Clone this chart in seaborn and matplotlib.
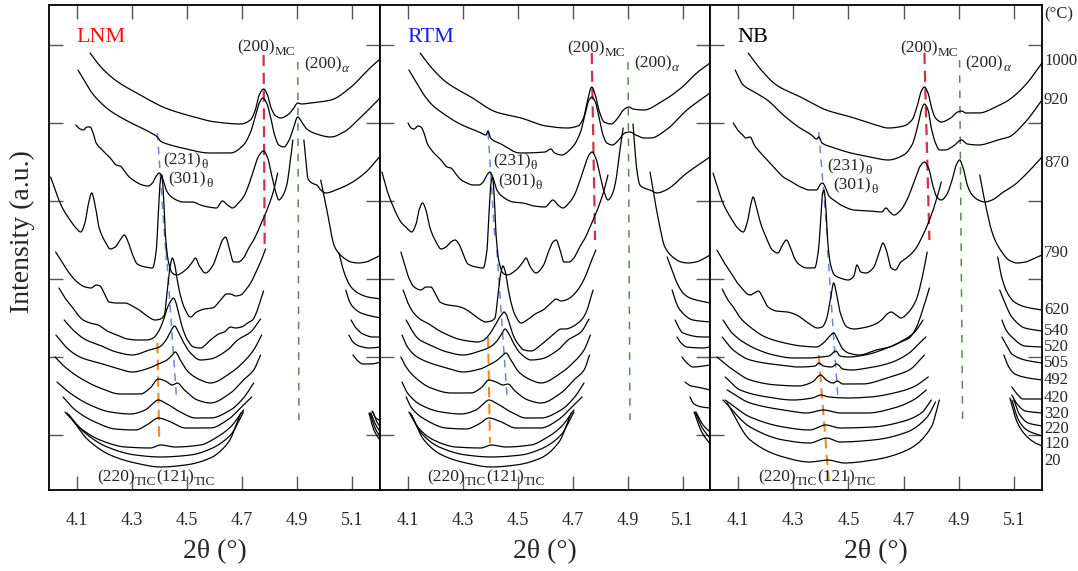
import numpy as np
import pandas as pd
import matplotlib
matplotlib.use("Agg")
import matplotlib.pyplot as plt
import matplotlib.transforms as mtrans
import seaborn as sns

# ---------------- data (2theta in degrees, intensity in a.u.) ----------------
TEMPS = [1000, 920, 870, 790, 620, 540, 520, 505, 492, 420, 320, 220, 120, 20]
SAMPLES = ["LNM", "RTM", "NB"]
XTICKS = [4.1, 4.3, 4.5, 4.7, 4.9, 5.1]

# ---- LNM ----
LNM_1000 = [(4.149,437),(4.185,424),(4.240,410),(4.331,395),(4.422,382),(4.513,374),(4.604,368),(4.695,366),(4.730,370),(4.748,380),(4.762,395),(4.778,401),(4.792,395),(4.804,383),(4.822,374),(4.840,372),(4.865,375),(4.885,381),(4.902,387),(4.915,386),(4.949,387),(5.022,390),(5.095,403),(5.156,420),(5.204,432)]
LNM_920 = [(4.105,420),(4.131,408),(4.156,397),(4.185,388),(4.218,380),(4.291,368),(4.364,358),(4.393,353),(4.404,349),(4.440,345),(4.484,342),(4.582,337),(4.658,337),(4.705,345),(4.731,358),(4.749,375),(4.764,388),(4.775,392),(4.789,387),(4.804,372),(4.818,355),(4.833,345),(4.851,343),(4.869,349),(4.884,360),(4.902,373),(4.916,368),(4.935,361),(4.960,357),(5.022,353),(5.069,358),(5.131,373),(5.204,393)]
LNM_870 = [(4.097,365),(4.113,361),(4.124,360),(4.138,363),(4.149,363),(4.160,357),(4.171,347),(4.193,340),(4.222,332),(4.244,325),(4.258,324),(4.276,318),(4.291,313),(4.316,308),(4.338,305),(4.360,304),(4.375,307),(4.389,314),(4.400,317),(4.411,312),(4.425,300),(4.440,294),(4.462,290),(4.484,288),(4.520,288),(4.549,285),(4.578,283),(4.607,282),(4.629,289),(4.647,285),(4.665,282),(4.687,287),(4.705,293),(4.724,305),(4.742,320),(4.760,334),(4.778,339),(4.793,332),(4.807,315),(4.822,298),(4.833,290),(4.847,294),(4.862,305),(4.873,325),(4.884,350),
           None,(4.924,350),(4.931,330),(4.938,312),(4.953,307),(4.971,305),(4.985,300),(5.004,297),(5.040,300),(5.095,307),(5.149,318),(5.204,335)]
LNM_790 = [(4.006,313),(4.025,298),(4.047,283),(4.076,270),(4.098,262),(4.115,258),(4.131,268),(4.142,285),(4.155,297),(4.167,285),(4.182,262),(4.204,248),(4.222,241),(4.240,243),(4.258,250),(4.273,255),(4.287,248),(4.302,236),(4.320,226),(4.349,223),(4.375,222),(4.389,240),(4.396,275),(4.404,310),(4.409,315),(4.415,295),(4.422,255),(4.433,228),(4.447,217),(4.462,215),(4.495,220),(4.520,228),(4.531,232),(4.545,224),(4.567,217),(4.593,224),(4.615,240),(4.629,250),(4.640,253),(4.655,240),(4.669,228),(4.687,228),(4.705,232),(4.724,242),(4.742,250),(4.767,265),(4.793,282),(4.815,300),(4.829,317),
           None,(4.985,310),(4.996,295),(5.011,275),(5.022,258),(5.033,245),(5.047,238),(5.069,232),(5.095,228),(5.120,227),(5.149,228),(5.175,231),(5.204,235)]
LNM_620 = [(4.024,238),(4.047,228),(4.073,217),(4.102,208),(4.131,203),(4.153,202),(4.171,205),(4.185,204),(4.200,197),(4.218,188),(4.247,187),(4.276,187),(4.302,184),(4.327,180),(4.356,174),(4.385,170),(4.404,171),(4.418,175),(4.429,200),(4.440,225),(4.447,232),(4.456,225),(4.465,210),(4.476,195),(4.491,182),(4.513,173),(4.535,178),(4.564,181),(4.593,182),(4.622,190),(4.644,196),(4.658,196),(4.676,194),(4.695,195),(4.713,200),(4.731,207),(4.749,217),(4.767,228),(4.785,241),
           None,(5.051,237),(5.062,225),(5.076,213),(5.095,203),(5.120,197),(5.156,193),(5.204,191)]
LNM_540 = [(4.036,202),(4.058,192),(4.084,183),(4.105,175),(4.124,170),(4.149,167),(4.178,165),(4.211,159),(4.247,155),(4.284,151),(4.320,150),(4.356,150),(4.378,152),(4.396,158),(4.415,170),(4.429,182),(4.444,190),(4.451,192),(4.458,189),(4.469,178),(4.484,162),(4.502,150),(4.524,143),(4.549,142),(4.585,150),(4.615,156),(4.636,158),(4.658,163),(4.676,162),(4.698,163),(4.720,167),(4.738,170),(4.753,178),(4.767,190),(4.778,199),
           None,(5.076,200),(5.087,190),(5.102,183),(5.131,177),(5.167,174),(5.204,172)]
LNM_520 = [(4.055,170),(4.095,158),(4.135,150),(4.182,145),(4.244,138),(4.302,135),(4.364,140),(4.400,143),(4.422,149),(4.440,158),(4.455,164),(4.469,158),(4.487,148),(4.513,137),(4.549,130),(4.585,131),(4.647,140),(4.684,150),(4.731,158),(4.767,171),
           None,(5.095,170),(5.113,162),(5.138,156),(5.175,153),(5.204,153)]
LNM_505 = [(4.025,155),(4.073,140),(4.120,132),(4.182,127),(4.244,122),(4.302,118),(4.364,122),(4.396,126),(4.422,129),(4.444,134),(4.458,138),(4.476,130),(4.505,118),(4.549,110),(4.585,107),(4.658,117),(4.705,128),(4.742,140),(4.771,155),
           None,(5.087,155),(5.102,148),(5.124,144),(5.160,142),(5.204,143)]
LNM_492 = [(4.022,133),(4.058,123),(4.113,112),(4.185,102),(4.258,96),(4.331,96),(4.367,102),(4.396,111),(4.422,109),(4.447,105),(4.465,107),(4.491,100),(4.538,90),(4.585,87),(4.658,97),(4.705,110),(4.742,120),(4.767,135),
           None,(5.102,135),(5.116,130),(5.138,126),(5.167,126),(5.204,128)]
LNM_420 = [(4.029,108),(4.076,97),(4.149,85),(4.222,78),(4.295,76),(4.349,80),(4.375,86),(4.396,90),(4.422,87),(4.476,78),(4.531,72),(4.585,72),(4.658,80),(4.705,92),(4.742,107),
           None,(5.171,79),(5.185,72),(5.204,69)]
LNM_320 = [(4.051,93),(4.095,80),(4.167,68),(4.240,61),(4.313,60),(4.360,66),(4.396,72),(4.433,69),(4.495,62),(4.585,62),(4.647,70),(4.705,85),(4.735,93),
           None,(5.175,78),(5.189,68),(5.204,62)]
LNM_220 = [(4.058,78),(4.113,62),(4.185,50),(4.276,43),(4.367,42),(4.404,45),(4.458,43),(4.549,45),(4.604,52),(4.658,63),(4.705,80),
           None,(5.167,77),(5.185,65),(5.204,57)]
LNM_120 = [(4.065,77),(4.131,57),(4.211,43),(4.313,35),(4.404,33),(4.513,35),(4.585,41),(4.658,55),(4.705,78),
           None,(5.164,77),(5.182,62),(5.204,52)]
LNM_20 = [(4.073,75),(4.142,50),(4.222,35),(4.313,27),(4.404,23),(4.495,25),(4.585,32),(4.651,48),(4.695,77),
          None,(5.160,77),(5.178,60),(5.204,48)]

# ---- RTM ----
RTM_1000 = [(4.146,437),(4.185,423),(4.240,408),(4.331,393),(4.422,378),(4.513,372),(4.604,364),(4.680,362),(4.720,364),(4.740,372),(4.755,390),(4.770,403),(4.784,394),(4.796,380),(4.815,368),(4.840,366),(4.865,372),(4.885,380),(4.905,383),(4.920,381),(4.960,380),(5.022,388),(5.095,402),(5.156,418),(5.200,427)]
RTM_920 = [(4.105,420),(4.131,408),(4.160,395),(4.190,385),(4.222,378),(4.291,366),(4.360,358),(4.385,355),(4.393,359),(4.402,352),(4.440,346),(4.509,337),(4.600,338),(4.621,341),(4.635,337),(4.660,335),(4.700,343),(4.728,357),(4.745,375),(4.760,390),(4.770,393),(4.783,388),(4.797,372),(4.811,355),(4.825,347),(4.845,345),(4.868,350),(4.890,357),(4.909,358),(4.930,355),(4.960,352),(4.985,352),(5.040,360),(5.116,380),(5.200,397)]
RTM_870 = [(4.102,367),(4.113,362),(4.124,361),(4.138,364),(4.149,363),(4.160,357),(4.171,347),(4.193,338),(4.222,330),(4.244,323),(4.258,322),(4.276,316),(4.291,311),(4.316,307),(4.338,305),(4.360,305),(4.375,308),(4.389,315),(4.400,318),(4.411,312),(4.425,300),(4.447,293),(4.484,288),(4.520,287),(4.560,284),(4.600,283),(4.629,290),(4.647,285),(4.665,282),(4.687,287),(4.705,294),(4.724,307),(4.742,322),(4.760,335),(4.771,338),(4.786,331),(4.800,315),(4.815,298),(4.829,290),(4.845,296),(4.858,310),(4.870,335),(4.884,362),
           None,(4.920,366),(4.927,340),(4.935,318),(4.945,305),(4.960,302),(4.982,300),(5.007,297),(5.040,300),(5.116,317),(5.200,333)]
RTM_790 = [(4.007,318),(4.025,300),(4.047,284),(4.076,268),(4.098,262),(4.115,258),(4.131,266),(4.142,280),(4.155,287),(4.167,280),(4.182,262),(4.204,248),(4.222,241),(4.240,243),(4.258,248),(4.273,250),(4.287,246),(4.302,236),(4.320,226),(4.349,223),(4.375,222),(4.389,240),(4.396,275),(4.404,308),(4.409,313),(4.415,295),(4.422,255),(4.433,228),(4.447,217),(4.462,215),(4.495,220),(4.520,228),(4.531,232),(4.545,224),(4.567,217),(4.593,224),(4.615,240),(4.629,248),(4.640,250),(4.655,240),(4.669,228),(4.687,228),(4.705,232),(4.724,242),(4.742,250),(4.767,265),(4.793,282),(4.815,300),(4.829,315),
           None,(4.982,318),(4.993,300),(5.007,278),(5.020,260),(5.033,245),(5.047,238),(5.069,232),(5.095,228),(5.120,227),(5.149,228),(5.175,231),(5.200,235)]
RTM_620 = [(4.076,238),(4.090,225),(4.105,212),(4.124,203),(4.149,200),(4.167,203),(4.185,203),(4.200,197),(4.218,188),(4.247,185),(4.276,184),(4.302,182),(4.327,178),(4.356,172),(4.385,168),(4.404,169),(4.418,172),(4.429,195),(4.440,218),(4.447,224),(4.456,218),(4.465,203),(4.476,188),(4.491,175),(4.513,167),(4.535,170),(4.564,176),(4.593,180),(4.622,187),(4.640,191),(4.658,189),(4.676,190),(4.695,193),(4.713,198),(4.731,205),(4.749,215),(4.767,228),(4.785,240),
           None,(5.044,233),(5.062,220),(5.080,207),(5.102,197),(5.127,192),(5.200,187)]
RTM_540 = [(4.084,200),(4.100,188),(4.120,178),(4.145,171),(4.178,166),(4.211,160),(4.247,155),(4.284,151),(4.320,149),(4.356,148),(4.378,150),(4.396,155),(4.415,163),(4.429,170),(4.444,176),(4.451,178),(4.458,176),(4.469,168),(4.484,155),(4.502,146),(4.524,140),(4.549,139),(4.585,145),(4.615,152),(4.636,157),(4.658,161),(4.676,161),(4.698,163),(4.720,167),(4.738,172),(4.753,180),(4.767,193),(4.775,200),
           None,(5.062,200),(5.076,188),(5.091,180),(5.138,170),(5.200,168)]
RTM_520 = [(4.095,170),(4.115,160),(4.140,151),(4.182,145),(4.244,138),(4.302,135),(4.364,139),(4.400,143),(4.422,148),(4.440,155),(4.455,161),(4.469,156),(4.487,146),(4.513,136),(4.549,130),(4.585,131),(4.647,140),(4.684,150),(4.731,158),(4.760,171),
           None,(5.073,170),(5.087,162),(5.102,157),(5.175,153),(5.200,153)]
RTM_505 = [(4.080,155),(4.100,143),(4.130,134),(4.182,127),(4.244,122),(4.302,118),(4.364,121),(4.396,125),(4.422,129),(4.444,134),(4.458,137),(4.476,130),(4.505,118),(4.549,110),(4.585,107),(4.658,117),(4.705,128),(4.742,140),(4.765,155),
           None,(5.080,153),(5.095,147),(5.116,143),(5.175,142),(5.200,143)]
RTM_492 = [(4.076,133),(4.095,123),(4.130,112),(4.185,102),(4.258,97),(4.331,97),(4.367,102),(4.396,110),(4.422,108),(4.447,105),(4.465,106),(4.491,99),(4.538,90),(4.585,87),(4.658,97),(4.705,110),(4.742,120),(4.762,135),
           None,(5.098,133),(5.116,127),(5.138,123),(5.200,125)]
RTM_420 = [(4.080,108),(4.100,97),(4.149,85),(4.222,78),(4.295,76),(4.349,80),(4.375,86),(4.396,90),(4.422,87),(4.476,78),(4.531,72),(4.585,72),(4.658,80),(4.705,92),(4.742,107),
           None,(5.109,108),(5.131,104),(5.153,103),(5.200,100)]
RTM_320 = [(4.095,93),(4.115,82),(4.167,70),(4.240,62),(4.313,61),(4.360,66),(4.396,72),(4.433,69),(4.495,62),(4.585,62),(4.647,70),(4.705,85),(4.735,93),
           None,(5.127,93),(5.142,86),(5.171,83),(5.200,82)]
RTM_220 = [(4.105,78),(4.140,62),(4.195,50),(4.276,43),(4.367,42),(4.404,45),(4.458,43),(4.549,45),(4.604,52),(4.658,63),(4.705,80),
           None,(5.149,78),(5.175,65),(5.200,58)]
RTM_120 = [(4.110,77),(4.150,57),(4.215,43),(4.313,35),(4.404,33),(4.513,35),(4.585,41),(4.658,55),(4.705,78),
           None,(5.146,78),(5.172,62),(5.200,52)]
RTM_20 = [(4.115,75),(4.160,50),(4.225,35),(4.313,27),(4.404,23),(4.495,25),(4.585,32),(4.651,48),(4.695,77),
          None,(5.142,78),(5.170,58),(5.200,46)]

# ---- NB ----
NB_1000 = [(4.138,437),(4.185,420),(4.240,405),(4.327,393),(4.420,380),(4.509,373),(4.600,365),(4.644,362),(4.700,364),(4.730,370),(4.750,385),(4.764,399),(4.775,403),(4.788,397),(4.800,383),(4.815,372),(4.836,368),(4.870,372),(4.895,378),(4.909,379),(4.925,377),(4.971,377),(5.040,384),(5.080,390),(5.140,405),(5.200,427)]
NB_920 = [(4.091,420),(4.120,405),(4.160,398),(4.207,390),(4.265,375),(4.320,363),(4.367,355),(4.385,351),(4.393,353),(4.405,347),(4.440,343),(4.509,337),(4.580,333),(4.644,330),(4.700,335),(4.730,345),(4.750,363),(4.764,380),(4.775,386),(4.788,380),(4.800,362),(4.815,347),(4.830,340),(4.850,340),(4.880,344),(4.909,350),(4.930,346),(4.971,345),(5.040,350),(5.080,353),(5.140,368),(5.200,390)]
NB_870 = [(4.084,367),(4.100,360),(4.115,356),(4.130,352),(4.145,353),(4.160,345),(4.180,338),(4.207,330),(4.240,320),(4.265,313),(4.290,309),(4.327,303),(4.360,300),(4.385,300),(4.400,306),(4.407,307),(4.418,302),(4.430,294),(4.447,290),(4.480,284),(4.520,280),(4.580,279),(4.620,278),(4.636,282),(4.650,278),(4.665,275),(4.690,280),(4.715,292),(4.740,310),(4.760,324),(4.775,328),(4.790,322),(4.805,305),(4.820,293),(4.836,290),(4.855,295),(4.875,310),(4.890,325),(4.902,330),(4.915,322),(4.930,305),(4.945,296),(4.970,290),(4.993,288),(5.020,290),(5.055,297),(5.100,305),(5.150,318),(5.200,333)]
NB_790 = [(4.011,317),(4.030,300),(4.050,285),(4.080,270),(4.100,262),(4.120,258),(4.135,268),(4.147,285),(4.156,293),(4.168,282),(4.185,265),(4.204,252),(4.225,240),(4.245,237),(4.262,245),(4.276,250),(4.290,243),(4.305,232),(4.320,226),(4.350,222),(4.378,222),(4.392,240),(4.400,270),(4.407,297),(4.412,300),(4.418,285),(4.425,250),(4.436,225),(4.450,215),(4.470,212),(4.500,210),(4.520,214),(4.531,225),(4.545,218),(4.564,217),(4.590,222),(4.612,238),(4.625,247),(4.637,240),(4.655,222),(4.670,220),(4.690,228),(4.710,232),(4.740,240),(4.770,255),(4.800,275),(4.820,292),(4.836,308),
          None,(4.975,315),(4.985,300),(5.000,280),(5.015,262),(5.030,250),(5.050,240),(5.080,230),(5.110,227),(5.140,228),(5.175,232),(5.200,235)]
NB_620 = [(4.025,240),(4.050,228),(4.076,217),(4.105,205),(4.145,195),(4.160,197),(4.175,199),(4.190,193),(4.210,183),(4.240,179),(4.280,178),(4.313,175),(4.350,168),(4.389,162),(4.405,163),(4.420,170),(4.435,190),(4.447,207),(4.458,195),(4.470,178),(4.495,163),(4.520,161),(4.550,162),(4.590,165),(4.620,170),(4.640,176),(4.655,178),(4.672,175),(4.690,172),(4.715,177),(4.745,190),(4.765,210),(4.785,238),
          None,(5.040,233),(5.055,212),(5.075,197),(5.100,188),(5.140,183),(5.200,180)]
NB_540 = [(4.044,201),(4.065,190),(4.084,183),(4.110,172),(4.145,163),(4.200,153),(4.270,147),(4.330,144),(4.385,143),(4.410,147),(4.430,153),(4.447,157),(4.462,150),(4.480,141),(4.500,137),(4.540,135),(4.600,140),(4.650,143),(4.690,148),(4.720,152),(4.745,162),(4.765,177),(4.793,202),
          None,(5.047,200),(5.069,185),(5.091,173),(5.138,162),(5.200,159)]
NB_520 = [(4.047,170),(4.080,157),(4.120,148),(4.175,140),(4.230,135),(4.300,132),(4.360,132),(4.400,133),(4.430,134),(4.455,139),(4.470,134),(4.500,133),(4.560,135),(4.640,142),(4.700,150),(4.740,158),(4.770,170),
          None,(5.055,170),(5.070,160),(5.091,153),(5.138,144),(5.200,143)]
NB_505 = [(4.044,153),(4.084,140),(4.145,130),(4.250,125),(4.320,123),(4.380,124),(4.393,127),(4.410,124),(4.440,123),(4.458,126),(4.480,121),(4.510,120),(4.570,122),(4.650,127),(4.720,137),(4.750,145),(4.780,153),
          None,(5.055,153),(5.075,143),(5.091,136),(5.138,130),(5.200,127)]
NB_492 = [(4.025,133),(4.084,120),(4.145,110),(4.240,105),(4.320,104),(4.370,108),(4.400,115),(4.420,110),(4.445,107),(4.460,109),(4.480,106),(4.550,106),(4.650,113),(4.720,120),(4.775,135),
          None,(5.062,135),(5.080,123),(5.102,116),(5.150,112),(5.200,110)]
NB_420 = [(4.055,113),(4.109,100),(4.207,93),(4.300,90),(4.370,92),(4.400,95),(4.430,93),(4.500,92),(4.580,93),(4.665,97),(4.735,103),(4.789,113),
          None,(5.091,103),(5.110,96),(5.131,91),(5.200,91)]
NB_320 = [(4.062,100),(4.145,87),(4.265,80),(4.350,77),(4.410,80),(4.470,77),(4.570,77),(4.665,82),(4.735,90),(4.782,100),
          None,(5.091,95),(5.110,86),(5.140,79),(5.200,77)]
NB_220 = [(4.055,90),(4.145,73),(4.265,63),(4.360,60),(4.418,65),(4.470,62),(4.590,63),(4.690,68),(4.764,77),(4.800,90),
          None,(5.098,90),(5.120,75),(5.150,67),(5.200,64)]
NB_120 = [(4.047,90),(4.145,63),(4.265,50),(4.360,47),(4.422,52),(4.470,48),(4.590,50),(4.713,58),(4.785,73),(4.815,88),
          None,(5.091,90),(5.115,70),(5.145,60),(5.200,54)]
NB_20 = [(4.062,87),(4.145,50),(4.265,33),(4.360,28),(4.425,30),(4.485,27),(4.590,30),(4.713,40),(4.800,63),(4.829,90),
         None,(5.084,92),(5.110,68),(5.140,55),(5.170,48),(5.200,44)]

# reference peak guide lines: (2theta, intensity) start and end
LNM_GUIDES = {"MC": [(4.778,435),(4.782,240)], "alpha": [(4.902,428),(4.906,70)],
              "theta1": [(4.393,357),(4.425,230)], "theta2": [(4.425,240),(4.462,93)], "TIC": [(4.393,147),(4.400,47)]}
RTM_GUIDES = {"MC": [(4.770,437),(4.782,250)], "alpha": [(4.902,428),(4.909,70)],
              "theta1": [(4.393,358),(4.418,250)], "theta2": [(4.425,240),(4.462,93)], "TIC": [(4.393,153),(4.400,47)]}
NB_GUIDES = {"MC": [(4.775,437),(4.793,250)], "alpha": [(4.902,430),(4.913,70)],
             "theta1": [(4.393,358),(4.425,250)], "theta2": [(4.425,240),(4.462,93)], "TIC": [(4.393,135),(4.429,10)]}

# ---------------- style / layout ----------------
sns.set_theme(style="white")
plt.rcParams["font.family"] = ["Liberation Serif", "DejaVu Serif"]

GUIDE_STYLE = {"MC": ("#d2304a", 1.6, (5, 3)), "alpha": ("#5b8a55", 1.1, (5, 5)),
               "theta1": ("#6b86d6", 1.1, (5, 4)), "theta2": ("#6b86d6", 1.1, (5, 4)),
               "TIC": ("#ee8a22", 1.5, (5, 3))}
TITLE_COLORS = {"LNM": "#ff1010", "RTM": "#1a1aff", "NB": "black"}
LABEL_POS = {
    "LNM": {"title": (4.10, 452), "MC": (4.683, 443), "alpha": (4.924, 426), "t231": (4.415, 330), "t301": (4.433, 311), "tic": (4.175, 13)},
    "RTM": {"title": (4.10, 452), "MC": (4.680, 442), "alpha": (4.924, 427), "t231": (4.411, 329), "t301": (4.429, 309), "tic": (4.171, 13)},
    "NB":  {"title": (4.10, 452), "MC": (4.687, 442), "alpha": (4.924, 427), "t231": (4.425, 324), "t301": (4.447, 305), "tic": (4.175, 13)},
}
TEMP_LABEL_Y = [429, 390, 327, 237, 180, 159, 143, 127, 110, 92, 76, 61, 46, 29]
FS_MAIN, FS_SUB = 12.5, 9.5


def pchip(x, y, xn):
    x = np.asarray(x, float); y = np.asarray(y, float)
    h = np.diff(x); d = np.diff(y) / h
    n = len(x); m = np.zeros(n)
    if n == 2:
        m[:] = d[0]
    else:
        for k in range(1, n - 1):
            if d[k - 1] * d[k] > 0:
                w1 = 2 * h[k] + h[k - 1]; w2 = h[k] + 2 * h[k - 1]
                m[k] = (w1 + w2) / (w1 / d[k - 1] + w2 / d[k])
        m[0] = d[0]; m[-1] = d[-1]
    idx = np.clip(np.searchsorted(x, xn) - 1, 0, n - 2)
    hh = h[idx]; t = (xn - x[idx]) / hh
    h00 = 2 * t**3 - 3 * t**2 + 1; h10 = t**3 - 2 * t**2 + t
    h01 = -2 * t**3 + 3 * t**2; h11 = t**3 - t**2
    return h00 * y[idx] + h10 * hh * m[idx] + h01 * y[idx + 1] + h11 * hh * m[idx + 1]


def segments(points):
    segs, cur = [], []
    for p in points:
        if p is None:
            segs.append(cur); cur = []
        else:
            cur.append(p)
    segs.append(cur)
    return segs


def sub_label(ax, x, y, main, sub, sub_style="normal"):
    t = ax.text(x, y, main, fontsize=FS_MAIN, va="center", ha="left")
    s = ax.annotate(sub, xy=(1.0, 0.2), xycoords=t, fontsize=FS_SUB, va="center",
                    ha="left", style=sub_style)
    return t, s


rows = []
g = globals()
for s in SAMPLES:
    for T in TEMPS:
        for j, seg in enumerate(segments(g[f"{s}_{T}"])):
            xs = [p[0] for p in seg]; ys = [p[1] for p in seg]
            xn = np.linspace(xs[0], xs[-1], max(30, int((xs[-1] - xs[0]) * 1500)))
            yn = pchip(xs, ys, xn)
            for a, b in zip(xn, yn):
                rows.append((s, T, f"{s}-{T}-{j}", a, b))
df = pd.DataFrame(rows, columns=["sample", "temp", "uid", "two_theta", "intensity"])

fig = plt.figure(figsize=(10.78, 5.71), dpi=100)
W, H = 1078, 571
edges = [(49, 380), (380, 710), (710, 1042)]
top_px, bot_px = 5, 490
axes = []
for (l, r) in edges:
    axes.append(fig.add_axes([l / W, 1 - bot_px / H, (r - l) / W, (bot_px - top_px) / H]))

guides_all = {"LNM": LNM_GUIDES, "RTM": RTM_GUIDES, "NB": NB_GUIDES}
for ax, s in zip(axes, SAMPLES):
    sub = df[df["sample"] == s]
    sns.lineplot(data=sub, x="two_theta", y="intensity", units="uid", estimator=None,
                 sort=False, color="black", linewidth=0.9, ax=ax, legend=False)
    for key, pts in guides_all[s].items():
        col, lw, dash = GUIDE_STYLE[key]
        gd = pd.DataFrame(pts, columns=["two_theta", "intensity"])
        ax.plot(gd["two_theta"], gd["intensity"], color=col, lw=lw, dashes=dash, zorder=1)
    ax.set_xlim(4.0, 5.2)
    ax.set_ylim(0, 485)
    ax.set_xticks(XTICKS)
    ax.set_xticklabels([f"{t:.1f}" for t in XTICKS])
    ax.set_yticks([55, 133, 211, 289, 367, 445])
    ax.tick_params(axis="both", direction="in", length=10, width=1.0, color="#555555",
                   top=True, right=True, left=True, bottom=True, labelleft=False,
                   labelsize=13, pad=16)
    for sp in ax.spines.values():
        sp.set_color("black"); sp.set_linewidth(1.3)
    ax.set_xlabel("2θ (°)", fontsize=20, labelpad=7)
    ax.set_ylabel("")
    lp = LABEL_POS[s]
    ax.text(*lp["title"], s, color=TITLE_COLORS[s], fontsize=16, va="center", ha="left")
    sub_label(ax, *lp["MC"], "(200)", "MC")
    sub_label(ax, *lp["alpha"], "(200)", "α", "italic")
    sub_label(ax, *lp["t231"], "(231)", "θ")
    sub_label(ax, *lp["t301"], "(301)", "θ")
    t1, s1 = sub_label(ax, *lp["tic"], "(220)", "TIC")
    t2 = ax.annotate("(121)", xy=(1.0, 0.5), xycoords=(s1, t1), fontsize=FS_MAIN,
                     va="center", ha="left")
    ax.annotate("TIC", xy=(1.0, 0.2), xycoords=t2, fontsize=FS_SUB, va="center", ha="left")

ax3 = axes[2]
tr = mtrans.blended_transform_factory(ax3.transAxes, ax3.transData)
ax3.text(1.006, 476, "(°C)", transform=tr, fontsize=12, va="center", ha="left")
for T, yv in zip(TEMPS, TEMP_LABEL_Y):
    ax3.text(1.006, yv, str(T), transform=tr, fontsize=12, va="center", ha="left")

fig.text(22 / W, 1 - 232 / H, "Intensity (a.u.)", rotation=90, va="center", ha="center", fontsize=20)

fig.savefig("out.png", dpi=100)
